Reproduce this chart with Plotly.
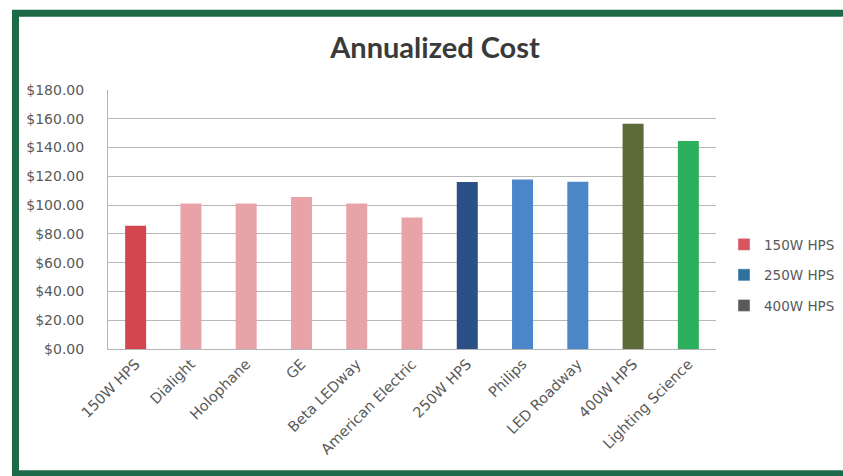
import plotly.graph_objects as go

# ---- data ----
categories = ["150W HPS", "Dialight", "Holophane", "GE", "Beta LEDway",
              "American Electric", "250W HPS", "Philips", "LED Roadway",
              "400W HPS", "Lighting Science"]
values = [85.6, 101.2, 101.2, 105.7, 101.2, 91.4, 116.1, 117.8, 116.3, 156.6, 144.5]
legend_names = ["150W HPS", "250W HPS", "400W HPS"]
y_ticks = [0, 20, 40, 60, 80, 100, 120, 140, 160, 180]
y_tick_labels = ["${:,.2f}".format(v) for v in y_ticks]

# ---- styles ----
bar_colors = ["#d4464f", "#e7a3a8", "#e7a3a8", "#e7a3a8", "#e7a3a8", "#e7a3a8",
              "#2a5085", "#4a86c8", "#4a86c8", "#5d6a3a", "#2bb05e"]
legend_colors = ["#d9535c", "#2f6f9c", "#5a5a5a"]
TITLE_FONT = "Lato, 'Open Sans', sans-serif"
FONT = "'DejaVu Sans', sans-serif"
W, H = 843, 476
ML, MR, MT, MB = 108, 127, 89.5, 126.7
PW, PH = W - ML - MR, H - MT - MB

fig = go.Figure()
fig.add_trace(go.Bar(x=categories, y=values, marker=dict(color=bar_colors, line=dict(width=0)),
                     showlegend=False, hoverinfo="x+y"))
for n, c in zip(legend_names, legend_colors):
    fig.add_trace(go.Bar(x=[categories[0]], y=[None], name=n, marker_color=c,
                         legendgroup=n, showlegend=True))

def px_x(p):
    return (p - ML) / PW

def px_y(p):
    return (H - MB - p) / PH

border = "#1d6a48"
fig.add_shape(type="rect", xref="paper", yref="paper", layer="above",
              x0=px_x(15.5), x1=px_x(846), y0=px_y(12.5), y1=px_y(474.5),
              line=dict(color=border, width=7), fillcolor="rgba(0,0,0,0)")
# cover the right edge of the frame (the reference shows no right border)
fig.add_shape(type="rect", xref="paper", yref="paper", layer="above",
              x0=px_x(841), x1=px_x(843), y0=px_y(16), y1=px_y(471),
              line=dict(width=0), fillcolor="white")

fig.update_layout(
    width=W, height=H,
    margin=dict(l=ML, r=MR, t=MT, b=MB, pad=0, autoexpand=False),
    paper_bgcolor="white", plot_bgcolor="white",
    barmode="overlay", bargap=0.62,
    title=dict(text="<b>Annualized Cost</b>", x=435 / W, xanchor="center",
               y=1 - 48 / H, yanchor="middle",
               font=dict(family=TITLE_FONT, size=29, color="#3a3a3a")),
    font=dict(family=FONT, size=13, color="#595959"),
    legend=dict(x=px_x(724), y=px_y(229), xanchor="left", yanchor="top",
                font=dict(family=FONT, size=13.5, color="#595959"),
                itemwidth=30, tracegroupgap=10, bgcolor="rgba(0,0,0,0)"),
    xaxis=dict(type="category", tickangle=-45, showgrid=False, showline=True,
               linecolor="#b5b5b5", linewidth=1, ticks="",
               tickfont=dict(family=FONT, size=14.5, color="#595959"),
               fixedrange=True),
    yaxis=dict(range=[0, 180], tickvals=y_ticks, ticktext=y_tick_labels,
               showgrid=True, gridcolor="#b8b8b8", gridwidth=1,
               showline=True, linecolor="#b5b5b5", linewidth=1,
               zeroline=False, ticks="", ticklabelstandoff=20,
               tickfont=dict(family=FONT, size=14, color="#595959"),
               fixedrange=True),
)

fig.write_html("out.html", config={"displayModeBar": False})
